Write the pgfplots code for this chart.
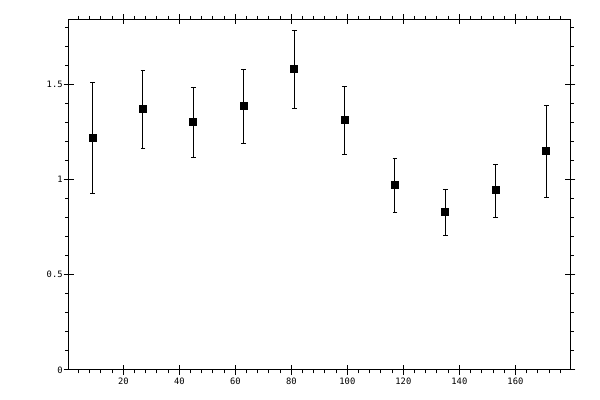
\documentclass[border=0pt]{standalone}
\usepackage{fontspec}
\setmainfont{DejaVu Sans Mono}
\usepackage{pgfplots}
\pgfplotsset{compat=1.18}
\usepackage{pgfplotstable}
\pgfplotstableread{
x y ep em
9 1.216 0.291 0.288
27 1.369 0.202 0.205
45 1.300 0.184 0.183
63 1.384 0.194 0.194
81 1.578 0.203 0.204
99 1.311 0.178 0.179
117 0.970 0.139 0.142
135 0.828 0.121 0.121
153 0.943 0.135 0.141
171 1.148 0.243 0.241
}\datatab
\begin{document}
\begin{tikzpicture}
\useasboundingbox (-34.35pt,-15pt) rectangle (265.65pt,185pt);
\begin{axis}[
  at={(0pt,0pt)}, anchor=south west,
  scale only axis, width=250.8pt, height=175.35pt,
  xmin=0.5, xmax=179.6, ymin=0, ymax=1.841,
  axis line style={line width=0.5pt},
  xtick={20,40,...,160}, ytick={0,0.5,1,1.5},
  minor xtick={4,8,...,176}, minor ytick={0.1,0.2,...,1.81},
  tick align=outside, tick pos=both,
  major tick length=2.5pt, minor tick length=1.7pt,
  every tick/.style={black, line width=0.5pt},
  /pgf/number format/assume math mode=true,
  tick label style={font=\fontsize{4.4}{5}\selectfont, black},
  xticklabel style={yshift=1.8pt},
  yticklabel style={xshift=3pt},
  clip=false,
]
\addplot[black, line width=0.5pt, only marks, mark=square*, mark size=1.75pt,
  error bars/.cd, y dir=both, y explicit,
  error mark options={black, rotate=90, mark size=1.2pt, line width=0.5pt},
  error bar style={line width=0.5pt}]
  table[x=x, y=y, y error plus=ep, y error minus=em] {\datatab};
\end{axis}
\begin{axis}[
  at={(0pt,0pt)}, anchor=south west,
  scale only axis, width=250.8pt, height=175.35pt,
  xmin=0.5, xmax=179.6, ymin=0, ymax=1.841,
  axis line style={draw=none},
  xtick={20,40,...,160}, ytick={0,0.5,1,1.5},
  xticklabels={}, yticklabels={},
  tick align=inside, tick pos=both,
  major tick length=2.5pt,
  every tick/.style={black, line width=0.5pt},
]
\end{axis}
\end{tikzpicture}
\end{document}
